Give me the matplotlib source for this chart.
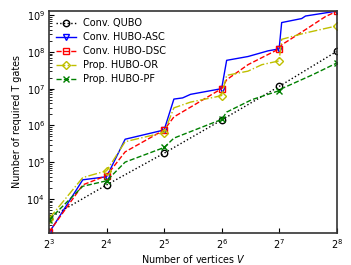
import matplotlib
matplotlib.use("Agg")
import matplotlib.pyplot as plt
import numpy as np

# Data
V_qubo = [8, 16, 32, 64, 128, 256]
T_qubo = [3.0e3, 2.4e4, 1.75e5, 1.4e6, 1.15e7, 1.03e8]

V_asc = [8, 12, 16, 20, 32, 36, 40, 44, 64, 68, 88, 112, 128, 132, 168, 176, 256]
T_asc = [1.2e3, 3.3e4, 4.0e4, 4.2e5, 7.5e5, 5.2e6, 5.6e6, 7.0e6, 1.0e7,
         5.9e7, 7.5e7, 1.07e8, 1.21e8, 6.3e8, 8.1e8, 9.5e8, 1.29e9]

V_dsc = [8, 12, 16, 20, 32, 36, 46, 64, 68, 88, 128, 132, 170, 224, 256]
T_dsc = [1.25e3, 2.4e4, 4.3e4, 1.9e5, 7.5e5, 1.7e6, 3.6e6, 1.0e7, 1.75e7,
         4.5e7, 1.21e8, 1.56e8, 3.6e8, 9.2e8, 1.27e9]

V_or = [8, 12, 16, 20, 32, 36, 44, 60, 64, 68, 88, 104, 128, 132, 172, 256]
T_or = [2.9e3, 3.8e4, 5.8e4, 3.6e5, 6.4e5, 3.0e6, 4.3e6, 6.0e6, 6.5e6,
        2.3e7, 3.0e7, 4.5e7, 5.7e7, 2.2e8, 3.2e8, 5.1e8]

V_pf = [8, 12, 16, 20, 32, 36, 64, 68, 92, 128, 132, 192, 256]
T_pf = [2.7e3, 2.2e4, 3.1e4, 1.0e5, 2.5e5, 4.5e5, 1.45e6, 2.3e6, 5.0e6,
        8.8e6, 1.0e7, 2.4e7, 4.97e7]

labels = ["Conv. QUBO", "Conv. HUBO-ASC", "Conv. HUBO-DSC",
          "Prop. HUBO-OR", "Prop. HUBO-PF"]
xticks = [8, 16, 32, 64, 128, 256]
xticklabels = [r"$2^3$", r"$2^4$", r"$2^5$", r"$2^6$", r"$2^7$", r"$2^8$"]

plt.rcParams['font.family'] = ['DejaVu Sans']
plt.rcParams['mathtext.fontset'] = 'dejavusans'

fig = plt.figure(figsize=(3.51, 2.65), dpi=100)
ax = fig.add_axes([0.14, 0.122, 0.819, 0.836])

def pw2(vs):
    return [i for i, v in enumerate(vs) if (v & (v - 1)) == 0]

series = [
    (V_qubo, T_qubo, dict(color='k', ls=':', marker='o')),
    (V_asc, T_asc, dict(color='b', ls='-', marker='v')),
    (V_dsc, T_dsc, dict(color='r', ls='--', marker='s')),
    (V_or, T_or, dict(color='#bfbf00', ls='-.', marker='D', markersize=4.2)),
    (V_pf, T_pf, dict(color='g', ls='--', marker='x')),
]
for (vs, ts, st), lab in zip(series, labels):
    kw = dict(lw=1.0, markersize=4.6, mfc='none', markeredgewidth=1.0)
    kw.update(st)
    ax.plot(vs, ts, label=lab, markevery=pw2(vs), **kw)

ax.set_xscale('log', base=2)
ax.set_yscale('log')
ax.set_xlim(8, 256)
ax.set_ylim(min(T_asc), max(T_asc))
ax.set_xticks(xticks)
ax.set_xticklabels(xticklabels)
ax.yaxis.set_minor_locator(matplotlib.ticker.LogLocator(base=10, subs=np.arange(2, 10)))
ax.yaxis.set_minor_formatter(matplotlib.ticker.NullFormatter())
ax.xaxis.set_minor_locator(matplotlib.ticker.NullLocator())
ax.tick_params(axis='both', which='both', direction='in', labelsize=7)
ax.tick_params(axis='both', which='major', length=3.5, pad=3)
ax.tick_params(axis='both', which='minor', length=2)
for s in ax.spines.values():
    s.set_linewidth(1.2)
    s.set_color('#333333')

ax.set_xlabel(r"Number of vertices $V$", fontsize=6.9, labelpad=1.5)
ax.set_ylabel("Number of required T gates", fontsize=6.9, labelpad=3)
leg = ax.legend(loc='upper left', fontsize=7, frameon=False, handlelength=2.0,
                borderaxespad=0.35, labelspacing=0.4, handletextpad=0.7)

fig.savefig("out.png", dpi=100)
